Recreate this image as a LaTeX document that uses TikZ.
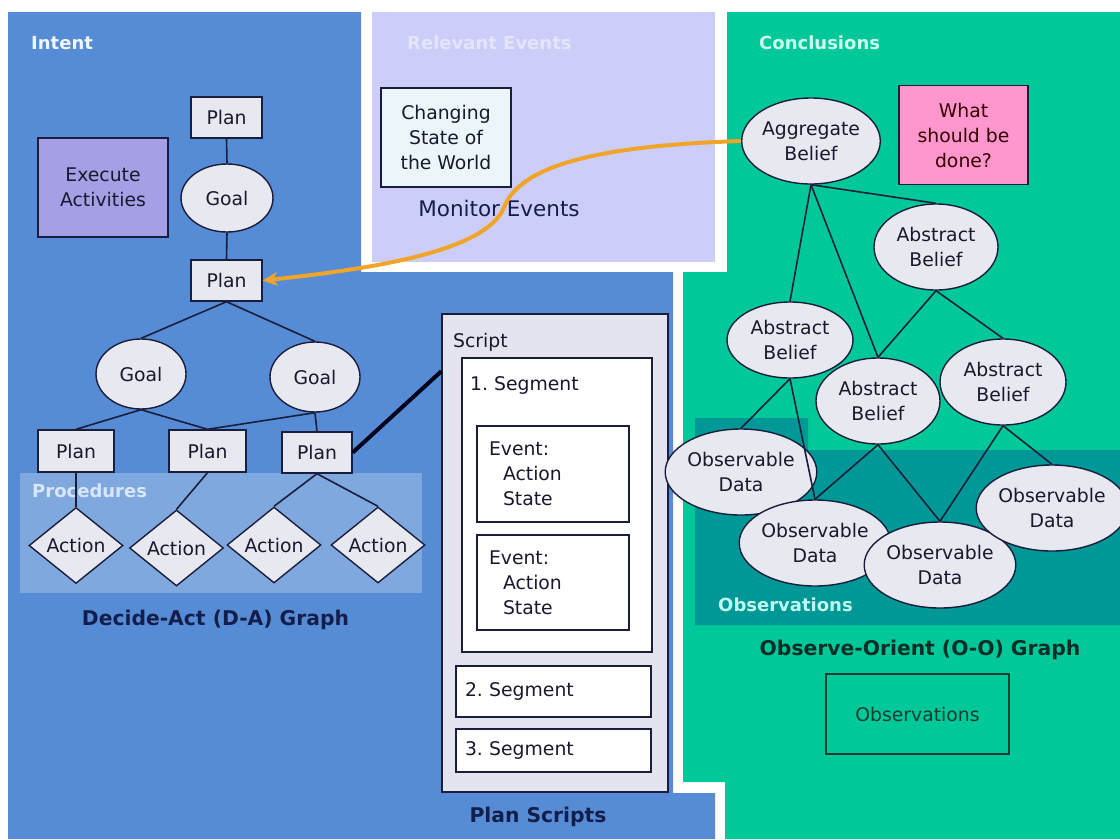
\documentclass[tikz,border=0pt]{standalone}
\usepackage{fontspec}
\setmainfont{DejaVu Sans}
\usetikzlibrary{shapes.geometric,arrows.meta,calc}
\definecolor{cblue}{RGB}{85,140,213}
\definecolor{clav}{RGB}{205,205,250}
\definecolor{cgreen}{RGB}{0,200,152}
\definecolor{cteal}{RGB}{0,152,150}
\definecolor{cnode}{RGB}{232,232,240}
\definecolor{cline}{RGB}{25,30,60}
\definecolor{ctext}{RGB}{25,25,45}
\definecolor{cexec}{RGB}{165,160,230}
\definecolor{cchg}{RGB}{235,246,250}
\definecolor{cpink}{RGB}{255,150,205}
\definecolor{cscript}{RGB}{228,228,238}
\definecolor{corange}{RGB}{240,165,40}
\definecolor{ctitle}{RGB}{20,30,75}
\definecolor{cootitle}{RGB}{10,45,40}
\definecolor{cint}{RGB}{240,245,255}
\definecolor{crel}{RGB}{228,228,252}
\definecolor{ccon}{RGB}{205,255,240}
\definecolor{cprocl}{RGB}{215,230,250}
\definecolor{cobsl}{RGB}{190,250,240}
\definecolor{cobsbox}{RGB}{20,60,50}
\frenchspacing
\begin{document}
\begin{tikzpicture}[x=1pt,y=-1pt,
  nf/.style={font=\fontsize{18.8}{25}\selectfont, text=ctext},
  lab/.style={font=\bfseries\fontsize{18}{20}\selectfont, anchor=west, inner sep=0pt},
  ttl/.style={font=\bfseries\fontsize{20.3}{22}\selectfont, inner sep=0pt},
  box/.style={draw=cline, line width=1.4pt, fill=cnode, inner sep=0pt, align=center, nf},
  ell/.style={ellipse, draw=cline, line width=1.4pt, fill=cnode, inner sep=0pt, align=center, nf},
  act/.style={diamond, draw=cline, line width=1.4pt, fill=cnode, inner sep=0pt, nf, minimum width=94pt, minimum height=76pt},
  conn/.style={draw=cline, line width=1.6pt},
]
\useasboundingbox (0,0) rectangle (1120,839);
\fill[white] (0,0) rectangle (1120,839);
% regions
\fill[cblue] (8,12) -- (361,12) -- (361,272) -- (673,272) -- (673,793) -- (715,793) -- (715,839) -- (8,839) -- cycle;
\fill[clav] (372,12) rectangle (715,262);
\fill[cgreen] (727,12) -- (1120,12) -- (1120,839) -- (725,839) -- (725,782) -- (683,782) -- (683,272) -- (727,272) -- cycle;
\fill[white, fill opacity=0.25] (20,473) rectangle (422,593);
\fill[cteal] (695,418) -- (808,418) -- (808,450) -- (1120,450) -- (1120,625) -- (695,625) -- cycle;
% region labels
\node[lab, text=cint] (lIntent) at (31,43.5) {Intent};
\node[lab, text=crel] (lRel) at (407,43) {Relevant Events};
\node[lab, text=ccon] (lCon) at (759,43) {Conclusions};
\node[lab, text=cprocl] (lProc) at (32,491) {Procedures};
\node[lab, text=cobsl] (lObs) at (718,605) {Observations};
% D-A graph
\node[box, minimum width=71pt, minimum height=41pt] (Ptop) at (226.5,117.5) {Plan};
\node[ell, minimum width=92pt, minimum height=68pt] (G0) at (227,198) {Goal};
\node[box, fill=cexec, minimum width=130pt, minimum height=99pt] (Exec) at (103,187.5) {Execute\\Activities};
\node[box, minimum width=71pt, minimum height=41pt] (Pmid) at (226.5,280.5) {Plan};
\node[ell, minimum width=90pt, minimum height=70pt] (GL) at (141,374) {Goal};
\node[ell, minimum width=90pt, minimum height=70pt] (GR) at (315,377) {Goal};
\node[box, minimum width=76pt, minimum height=42pt] (P1) at (76,451) {Plan};
\node[box, minimum width=77pt, minimum height=42pt] (P2) at (207.5,451) {Plan};
\node[box, minimum width=70pt, minimum height=41pt] (P3) at (317,452.5) {Plan};
\node[act] (A1) at (76,545.5) {Action};
\node[act] (A2) at (176.5,548) {Action};
\node[act] (A3) at (274,545) {Action};
\node[act] (A4) at (378,545) {Action};
\draw[conn] (Ptop.south) -- (G0.north);
\draw[conn] (G0.south) -- (Pmid.north);
\draw[conn] (Pmid.south) -- (GL.north);
\draw[conn] (Pmid.south) -- (GR.north);
\draw[conn] (GL.south) -- (P1.north);
\draw[conn] (GL.south) -- (P2.north);
\draw[conn] (GR.south) -- (P2.north);
\draw[conn] (GR.south) -- (P3.north);
\draw[conn] (P1.south) -- (A1.north);
\draw[conn] (P2.south) -- (A2.north);
\draw[conn] (P3.south) -- (A3.north);
\draw[conn] (P3.south) -- (A4.north);
\node[ttl, text=ctitle] (DAtitle) at (215.5,620) {Decide-Act (D-A) Graph};
% Plan scripts
\node[box, fill=cscript, minimum width=226pt, minimum height=478pt] (Script) at (555,553) {};
\node[nf, anchor=west, inner sep=0pt] (ScriptL) at (453,342) {Script};
\node[box, fill=white, minimum width=190pt, minimum height=294pt] (Seg1) at (557,505) {};
\node[nf, anchor=west, inner sep=0pt] (Seg1L) at (470,385) {1.\ Segment};
\node[box, fill=white, minimum width=152pt, minimum height=96pt, align=left, text width=128pt] (Ev1) at (553,474) {Event:\\\hspace*{14pt}Action\\\hspace*{14pt}State};
\node[box, fill=white, minimum width=152pt, minimum height=95pt, align=left, text width=128pt] (Ev2) at (553,582.5) {Event:\\\hspace*{14pt}Action\\\hspace*{14pt}State};
\node[box, fill=white, minimum width=195pt, minimum height=51pt, align=left, text width=177pt] (Seg2) at (553.5,691.5) {2.\ Segment};
\node[box, fill=white, minimum width=195pt, minimum height=43pt, align=left, text width=177pt] (Seg3) at (553.5,750.5) {3.\ Segment};
\node[ttl, text=ctitle] (PStitle) at (538,817) {Plan Scripts};
\draw[draw=black!90!blue, line width=4pt] (P3.east) -- ([yshift=-58pt]Script.north west);
% Relevant events
\node[box, fill=cchg, minimum width=130pt, minimum height=99pt] (Chg) at (446,137.5) {Changing\\State of\\the World};
\node[font=\fontsize{21.5}{24}\selectfont, text=ctitle, inner sep=0pt] (Mon) at (499,208) {Monitor Events};
% O-O graph
\node[ell, minimum width=126pt, minimum height=86pt] (Agg) at (811,141) {Aggregate\\Belief};
\node[box, fill=cpink, minimum width=129pt, minimum height=99pt, text=black!80!red] (What) at (963.5,135) {What\\should be\\done?};
\node[ell, minimum width=124pt, minimum height=86pt] (ABtr) at (936,247) {Abstract\\Belief};
\node[ell, minimum width=126pt, minimum height=76pt] (ABl) at (790,340) {Abstract\\Belief};
\node[ell, minimum width=124pt, minimum height=86pt] (ABm) at (878,401) {Abstract\\Belief};
\node[ell, minimum width=126pt, minimum height=86pt] (ABr) at (1003,382) {Abstract\\Belief};
\node[ell, minimum width=124pt, minimum height=86pt] (OD1) at (741,472) {Observable\\Data};
\node[ell, minimum width=124pt, minimum height=86pt] (OD2) at (815,543) {Observable\\Data};
\node[ell, minimum width=124pt, minimum height=86pt] (OD3) at (940,565) {Observable\\Data};
\node[ell, minimum width=124pt, minimum height=86pt] (OD4) at (1052,508) {Observable\\Data};
\draw[conn] (Agg.south) -- (ABtr.north);
\draw[conn] (Agg.south) -- (ABl.north);
\draw[conn] (Agg.south) -- (ABm.north);
\draw[conn] (ABtr.south) -- (ABm.north);
\draw[conn] (ABtr.south) -- (ABr.north);
\draw[conn] (ABl.south) -- (OD1.north);
\draw[conn] (ABl.south) -- (OD2.north);
\draw[conn] (ABm.south) -- (OD2.north);
\draw[conn] (ABm.south) -- (OD3.north);
\draw[conn] (ABr.south) -- (OD3.north);
\draw[conn] (ABr.south) -- (OD4.north);
\node[ttl, text=cootitle] (OOtitle) at (920,650) {Observe-Orient (O-O) Graph};
\node[draw=cobsbox, line width=1.4pt, minimum width=183pt, minimum height=80pt, inner sep=0pt, font=\fontsize{18.8}{22}\selectfont, text=cobsbox] (ObsBox) at (917.5,714) {Observations};
% orange feedback curve
\draw[corange, line width=4pt, -{Stealth[length=15pt,width=14pt]}] (Agg.west) .. controls (620,145) and (525,160) .. (505,205) .. controls (490,250) and (380,268) .. (Pmid.east);
\end{tikzpicture}
\end{document}
